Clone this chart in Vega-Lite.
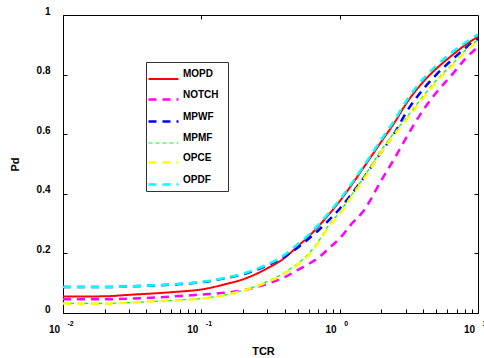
{
  "$schema": "https://vega.github.io/schema/vega-lite/v6.json",
  "width": 415,
  "height": 298,
  "autosize": "none",
  "padding": {"left": 63, "top": 15, "right": 6, "bottom": 45},
  "background": "#ffffff",
  "config": {
    "font": "Liberation Sans",
    "view": {"stroke": "#000000", "strokeWidth": 1},
    "axis": {"grid": false, "domain": false, "tickColor": "#000000", "labelColor": "#000000", "titleColor": "#000000", "labelFontWeight": "bold", "titleFontWeight": "bold", "labelFontSize": 10, "titleFontSize": 11, "labelOverlap": false, "labelFlush": false}
  },
  "data": {"values": [
    {"s":"MOPD","x":0.01,"y":0.055},{"s":"MOPD","x":0.02,"y":0.056},{"s":"MOPD","x":0.03,"y":0.061},{"s":"MOPD","x":0.05,"y":0.067},{"s":"MOPD","x":0.07,"y":0.072},{"s":"MOPD","x":0.1,"y":0.079},{"s":"MOPD","x":0.15,"y":0.097},{"s":"MOPD","x":0.2,"y":0.113},{"s":"MOPD","x":0.3,"y":0.150},{"s":"MOPD","x":0.4,"y":0.185},{"s":"MOPD","x":0.5,"y":0.225},{"s":"MOPD","x":0.6,"y":0.258},{"s":"MOPD","x":0.7,"y":0.29},{"s":"MOPD","x":0.85,"y":0.335},{"s":"MOPD","x":1,"y":0.375},{"s":"MOPD","x":1.2,"y":0.425},{"s":"MOPD","x":1.5,"y":0.49},{"s":"MOPD","x":2,"y":0.575},{"s":"MOPD","x":2.5,"y":0.64},{"s":"MOPD","x":3,"y":0.70},{"s":"MOPD","x":4,"y":0.775},{"s":"MOPD","x":5,"y":0.82},{"s":"MOPD","x":6.5,"y":0.865},{"s":"MOPD","x":8,"y":0.898},{"s":"MOPD","x":10,"y":0.927},
    {"s":"NOTCH","x":0.01,"y":0.046},{"s":"NOTCH","x":0.02,"y":0.046},{"s":"NOTCH","x":0.03,"y":0.048},{"s":"NOTCH","x":0.05,"y":0.053},{"s":"NOTCH","x":0.07,"y":0.057},{"s":"NOTCH","x":0.1,"y":0.062},{"s":"NOTCH","x":0.15,"y":0.068},{"s":"NOTCH","x":0.2,"y":0.076},{"s":"NOTCH","x":0.3,"y":0.098},{"s":"NOTCH","x":0.4,"y":0.12},{"s":"NOTCH","x":0.5,"y":0.145},{"s":"NOTCH","x":0.6,"y":0.165},{"s":"NOTCH","x":0.7,"y":0.185},{"s":"NOTCH","x":0.85,"y":0.22},{"s":"NOTCH","x":1,"y":0.25},{"s":"NOTCH","x":1.2,"y":0.295},{"s":"NOTCH","x":1.5,"y":0.345},{"s":"NOTCH","x":2,"y":0.445},{"s":"NOTCH","x":2.5,"y":0.52},{"s":"NOTCH","x":3,"y":0.585},{"s":"NOTCH","x":4,"y":0.68},{"s":"NOTCH","x":5,"y":0.74},{"s":"NOTCH","x":6.5,"y":0.80},{"s":"NOTCH","x":8,"y":0.85},{"s":"NOTCH","x":10,"y":0.893},
    {"s":"MPWF","x":0.01,"y":0.087},{"s":"MPWF","x":0.02,"y":0.087},{"s":"MPWF","x":0.03,"y":0.089},{"s":"MPWF","x":0.05,"y":0.093},{"s":"MPWF","x":0.07,"y":0.097},{"s":"MPWF","x":0.1,"y":0.103},{"s":"MPWF","x":0.15,"y":0.117},{"s":"MPWF","x":0.2,"y":0.130},{"s":"MPWF","x":0.3,"y":0.16},{"s":"MPWF","x":0.4,"y":0.19},{"s":"MPWF","x":0.5,"y":0.22},{"s":"MPWF","x":0.6,"y":0.25},{"s":"MPWF","x":0.7,"y":0.277},{"s":"MPWF","x":0.85,"y":0.315},{"s":"MPWF","x":1,"y":0.35},{"s":"MPWF","x":1.2,"y":0.395},{"s":"MPWF","x":1.5,"y":0.455},{"s":"MPWF","x":2,"y":0.54},{"s":"MPWF","x":2.5,"y":0.605},{"s":"MPWF","x":3,"y":0.67},{"s":"MPWF","x":4,"y":0.75},{"s":"MPWF","x":5,"y":0.80},{"s":"MPWF","x":6.5,"y":0.85},{"s":"MPWF","x":8,"y":0.887},{"s":"MPWF","x":10,"y":0.92},
    {"s":"MPMF","x":0.01,"y":0.033},{"s":"MPMF","x":0.02,"y":0.032},{"s":"MPMF","x":0.03,"y":0.035},{"s":"MPMF","x":0.05,"y":0.040},{"s":"MPMF","x":0.07,"y":0.044},{"s":"MPMF","x":0.1,"y":0.049},{"s":"MPMF","x":0.15,"y":0.061},{"s":"MPMF","x":0.2,"y":0.076},{"s":"MPMF","x":0.3,"y":0.106},{"s":"MPMF","x":0.4,"y":0.136},{"s":"MPMF","x":0.5,"y":0.167},{"s":"MPMF","x":0.6,"y":0.2},{"s":"MPMF","x":0.7,"y":0.24},{"s":"MPMF","x":0.85,"y":0.30},{"s":"MPMF","x":1,"y":0.338},{"s":"MPMF","x":1.2,"y":0.392},{"s":"MPMF","x":1.5,"y":0.457},{"s":"MPMF","x":2,"y":0.547},{"s":"MPMF","x":2.5,"y":0.607},{"s":"MPMF","x":3,"y":0.652},{"s":"MPMF","x":4,"y":0.727},{"s":"MPMF","x":5,"y":0.781},{"s":"MPMF","x":6.5,"y":0.835},{"s":"MPMF","x":8,"y":0.879},{"s":"MPMF","x":10,"y":0.917},
    {"s":"OPCE","x":0.01,"y":0.032},{"s":"OPCE","x":0.02,"y":0.031},{"s":"OPCE","x":0.03,"y":0.035},{"s":"OPCE","x":0.05,"y":0.040},{"s":"OPCE","x":0.07,"y":0.043},{"s":"OPCE","x":0.1,"y":0.048},{"s":"OPCE","x":0.15,"y":0.060},{"s":"OPCE","x":0.2,"y":0.075},{"s":"OPCE","x":0.3,"y":0.104},{"s":"OPCE","x":0.4,"y":0.133},{"s":"OPCE","x":0.5,"y":0.163},{"s":"OPCE","x":0.6,"y":0.195},{"s":"OPCE","x":0.7,"y":0.235},{"s":"OPCE","x":0.85,"y":0.295},{"s":"OPCE","x":1,"y":0.333},{"s":"OPCE","x":1.2,"y":0.385},{"s":"OPCE","x":1.5,"y":0.45},{"s":"OPCE","x":2,"y":0.54},{"s":"OPCE","x":2.5,"y":0.60},{"s":"OPCE","x":3,"y":0.645},{"s":"OPCE","x":4,"y":0.72},{"s":"OPCE","x":5,"y":0.775},{"s":"OPCE","x":6.5,"y":0.83},{"s":"OPCE","x":8,"y":0.875},{"s":"OPCE","x":10,"y":0.915},
    {"s":"OPDF","x":0.01,"y":0.087},{"s":"OPDF","x":0.02,"y":0.087},{"s":"OPDF","x":0.03,"y":0.089},{"s":"OPDF","x":0.05,"y":0.094},{"s":"OPDF","x":0.07,"y":0.098},{"s":"OPDF","x":0.1,"y":0.104},{"s":"OPDF","x":0.15,"y":0.118},{"s":"OPDF","x":0.2,"y":0.132},{"s":"OPDF","x":0.3,"y":0.163},{"s":"OPDF","x":0.4,"y":0.195},{"s":"OPDF","x":0.5,"y":0.232},{"s":"OPDF","x":0.6,"y":0.263},{"s":"OPDF","x":0.7,"y":0.295},{"s":"OPDF","x":0.85,"y":0.34},{"s":"OPDF","x":1,"y":0.38},{"s":"OPDF","x":1.2,"y":0.43},{"s":"OPDF","x":1.5,"y":0.495},{"s":"OPDF","x":2,"y":0.582},{"s":"OPDF","x":2.5,"y":0.648},{"s":"OPDF","x":3,"y":0.708},{"s":"OPDF","x":4,"y":0.785},{"s":"OPDF","x":5,"y":0.83},{"s":"OPDF","x":6.5,"y":0.875},{"s":"OPDF","x":8,"y":0.905},{"s":"OPDF","x":10,"y":0.935}
  ]},
  "layer": [
    {
      "mark": {"type": "line", "interpolate": "monotone", "clip": true},
      "encoding": {
        "x": {"field": "x", "type": "quantitative",
          "scale": {"type": "log", "domain": [0.01, 10], "nice": false},
          "axis": {"orient": "bottom", "title": "TCR", "titlePadding": 11, "titleX": 200,
            "values": [0.01,0.02,0.03,0.04,0.05,0.06,0.07,0.08,0.09,0.1,0.2,0.3,0.4,0.5,0.6,0.7,0.8,0.9,1,2,3,4,5,6,7,8,9,10],
            "labelExpr": "abs(log(datum.value)/LN10 - round(log(datum.value)/LN10)) < 0.001 ? '10' : ''",
            "tickSize": -4, "labelPadding": 15, "labelAlign": "right", "labelOffset": -3.5}},
        "y": {"field": "y", "type": "quantitative",
          "scale": {"domain": [0, 1], "nice": false},
          "axis": {"orient": "left", "title": "Pd", "titlePadding": 16,
            "values": [0, 0.2, 0.4, 0.6, 0.8, 1],
            "labelExpr": "datum.value == 0 ? '0' : datum.value == 1 ? '1' : format(datum.value, '.1f')",
            "tickSize": -4, "labelPadding": 17, "labelOffset": -4}},
        "color": {"field": "s", "type": "nominal",
          "scale": {"domain": ["MOPD","NOTCH","MPWF","MPMF","OPCE","OPDF"], "range": ["#ff0000","#ff00ff","#0000ff","#00ff00","#ffff00","#00ffff"]},
          "legend": {"orient": "none", "legendX": 83, "legendY": 47, "title": "\u00a0",
            "titleOrient": "right", "titlePadding": 8, "titleFontSize": 10,
            "strokeColor": "#333333", "fillColor": "#ffffff", "padding": 1,
            "symbolType": "stroke", "symbolSize": 900, "symbolStrokeWidth": 2,
            "labelFontWeight": "bold", "labelFontSize": 10, "labelColor": "#000000",
            "labelBaseline": "bottom",
            "rowPadding": -1, "labelOffset": 3}},
        "strokeDash": {"field": "s", "type": "nominal",
          "scale": {"domain": ["MOPD","NOTCH","MPWF","MPMF","OPCE","OPDF"], "range": [[1,0],[8,6],[8,6],[4,3],[8,6],[8,6]]}},
        "strokeWidth": {"field": "s", "type": "nominal",
          "scale": {"type": "ordinal", "domain": ["MOPD","NOTCH","MPWF","MPMF","OPCE","OPDF"], "range": [2,2.5,2.5,1.2,2.5,2.5]}}
      }
    },
    {
      "mark": {"type": "point", "opacity": 0},
      "encoding": {
        "x": {"field": "x", "type": "quantitative",
          "axis": {"orient": "bottom", "title": null, "values": [0.01, 0.1, 1, 10],
            "labelExpr": "'' + round(log(datum.value)/LN10)",
            "ticks": false, "tickSize": 0, "labelPadding": 6, "labelAlign": "left", "labelOffset": 4, "labelFontSize": 7}},
        "y": {"field": "y", "type": "quantitative",
          "axis": {"orient": "right", "title": null, "values": [0.2, 0.4, 0.6, 0.8], "labels": false, "tickSize": -4}}
      }
    },
    {
      "mark": {"type": "point", "opacity": 0},
      "encoding": {
        "x": {"field": "x", "type": "quantitative",
          "axis": {"orient": "top", "title": null, "values": [0.1, 1], "labels": false, "tickSize": -4}},
        "y": {"field": "y", "type": "quantitative", "axis": null}
      }
    }
  ],
  "resolve": {"axis": {"x": "independent", "y": "independent"}}
}
